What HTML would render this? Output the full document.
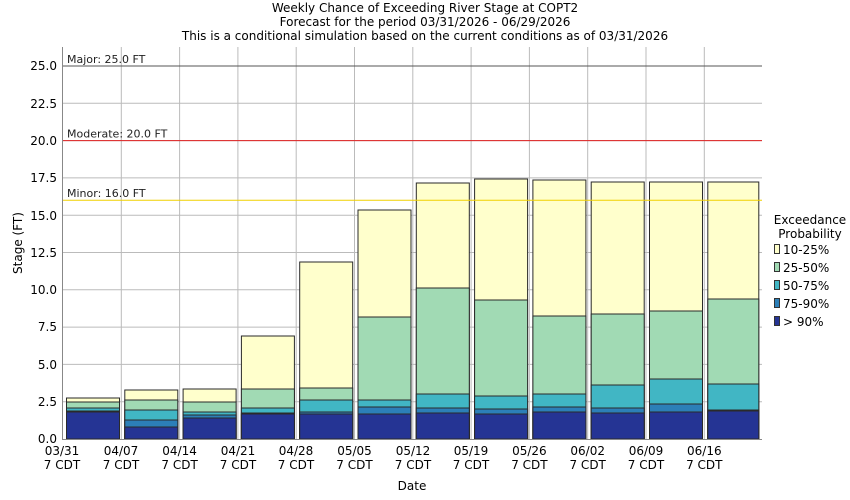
<!DOCTYPE html>
<html><head><style>body{margin:0;background:#fff}svg{display:block;font-family:"DejaVu Sans","Liberation Sans",sans-serif}</style></head><body>
<svg width="850" height="500" xmlns="http://www.w3.org/2000/svg">
<rect width="850" height="500" fill="#fff"/>
<g font-size="12" text-anchor="middle" fill="#000">
<text x="425" y="12">Weekly Chance of Exceeding River Stage at COPT2</text>
<text x="425" y="26">Forecast for the period 03/31/2026 - 06/29/2026</text>
<text x="425" y="40">This is a conditional simulation based on the current conditions as of 03/31/2026</text>
</g>
<g stroke="#bbb" stroke-width="1">
<line x1="63" y1="401.7" x2="762" y2="401.7"/><line x1="63" y1="364.4" x2="762" y2="364.4"/><line x1="63" y1="327.1" x2="762" y2="327.1"/><line x1="63" y1="289.8" x2="762" y2="289.8"/><line x1="63" y1="252.5" x2="762" y2="252.5"/><line x1="63" y1="215.2" x2="762" y2="215.2"/><line x1="63" y1="177.9" x2="762" y2="177.9"/><line x1="63" y1="140.6" x2="762" y2="140.6"/><line x1="63" y1="103.3" x2="762" y2="103.3"/><line x1="63" y1="66" x2="762" y2="66"/>
<line x1="121.3" y1="47" x2="121.3" y2="439"/><line x1="179.6" y1="47" x2="179.6" y2="439"/><line x1="237.9" y1="47" x2="237.9" y2="439"/><line x1="296.2" y1="47" x2="296.2" y2="439"/><line x1="354.5" y1="47" x2="354.5" y2="439"/><line x1="412.8" y1="47" x2="412.8" y2="439"/><line x1="471.1" y1="47" x2="471.1" y2="439"/><line x1="529.4" y1="47" x2="529.4" y2="439"/><line x1="587.7" y1="47" x2="587.7" y2="439"/><line x1="646" y1="47" x2="646" y2="439"/><line x1="704.3" y1="47" x2="704.3" y2="439"/>
</g>
<g stroke="#333" stroke-width="1">
<!-- bar: yellow, green, teal, blue, navy -->
<g id="b"></g>
</g>
<g stroke="#2a2a2a" stroke-width="1">
<rect x="66.5" y="398" width="53" height="41" fill="#ffffcc"/><rect x="66.5" y="402" width="53" height="37" fill="#a1dab4"/><rect x="66.5" y="408" width="53" height="31" fill="#41b6c4"/><rect x="66.5" y="411" width="53" height="28" fill="#2c7fb8"/><rect x="66.5" y="412" width="53" height="27" fill="#253494"/>
<rect x="124.8" y="390" width="53" height="49" fill="#ffffcc"/><rect x="124.8" y="400" width="53" height="39" fill="#a1dab4"/><rect x="124.8" y="410" width="53" height="29" fill="#41b6c4"/><rect x="124.8" y="420" width="53" height="19" fill="#2c7fb8"/><rect x="124.8" y="427" width="53" height="12" fill="#253494"/>
<rect x="183.1" y="389" width="53" height="50" fill="#ffffcc"/><rect x="183.1" y="402" width="53" height="37" fill="#a1dab4"/><rect x="183.1" y="412" width="53" height="27" fill="#41b6c4"/><rect x="183.1" y="415" width="53" height="24" fill="#2c7fb8"/><rect x="183.1" y="418" width="53" height="21" fill="#253494"/>
<rect x="241.4" y="336" width="53" height="103" fill="#ffffcc"/><rect x="241.4" y="389" width="53" height="50" fill="#a1dab4"/><rect x="241.4" y="408" width="53" height="31" fill="#41b6c4"/><rect x="241.4" y="413" width="53" height="26" fill="#2c7fb8"/><rect x="241.4" y="414" width="53" height="25" fill="#253494"/>
<rect x="299.7" y="262" width="53" height="177" fill="#ffffcc"/><rect x="299.7" y="388" width="53" height="51" fill="#a1dab4"/><rect x="299.7" y="400" width="53" height="39" fill="#41b6c4"/><rect x="299.7" y="412" width="53" height="27" fill="#2c7fb8"/><rect x="299.7" y="414" width="53" height="25" fill="#253494"/>
<rect x="358" y="210" width="53" height="229" fill="#ffffcc"/><rect x="358" y="317" width="53" height="122" fill="#a1dab4"/><rect x="358" y="400" width="53" height="39" fill="#41b6c4"/><rect x="358" y="407" width="53" height="32" fill="#2c7fb8"/><rect x="358" y="414" width="53" height="25" fill="#253494"/>
<rect x="416.3" y="183" width="53" height="256" fill="#ffffcc"/><rect x="416.3" y="288" width="53" height="151" fill="#a1dab4"/><rect x="416.3" y="394" width="53" height="45" fill="#41b6c4"/><rect x="416.3" y="408" width="53" height="31" fill="#2c7fb8"/><rect x="416.3" y="413" width="53" height="26" fill="#253494"/>
<rect x="474.6" y="179" width="53" height="260" fill="#ffffcc"/><rect x="474.6" y="300" width="53" height="139" fill="#a1dab4"/><rect x="474.6" y="396" width="53" height="43" fill="#41b6c4"/><rect x="474.6" y="409" width="53" height="30" fill="#2c7fb8"/><rect x="474.6" y="414" width="53" height="25" fill="#253494"/>
<rect x="532.9" y="180" width="53" height="259" fill="#ffffcc"/><rect x="532.9" y="316" width="53" height="123" fill="#a1dab4"/><rect x="532.9" y="394" width="53" height="45" fill="#41b6c4"/><rect x="532.9" y="407" width="53" height="32" fill="#2c7fb8"/><rect x="532.9" y="412" width="53" height="27" fill="#253494"/>
<rect x="591.2" y="182" width="53" height="257" fill="#ffffcc"/><rect x="591.2" y="314" width="53" height="125" fill="#a1dab4"/><rect x="591.2" y="385" width="53" height="54" fill="#41b6c4"/><rect x="591.2" y="408" width="53" height="31" fill="#2c7fb8"/><rect x="591.2" y="413" width="53" height="26" fill="#253494"/>
<rect x="649.5" y="182" width="53" height="257" fill="#ffffcc"/><rect x="649.5" y="311" width="53" height="128" fill="#a1dab4"/><rect x="649.5" y="379" width="53" height="60" fill="#41b6c4"/><rect x="649.5" y="404" width="53" height="35" fill="#2c7fb8"/><rect x="649.5" y="412" width="53" height="27" fill="#253494"/>
<rect x="707.8" y="182" width="51" height="257" fill="#ffffcc"/><rect x="707.8" y="299" width="51" height="140" fill="#a1dab4"/><rect x="707.8" y="384" width="51" height="55" fill="#41b6c4"/><rect x="707.8" y="410" width="51" height="29" fill="#2c7fb8"/><rect x="707.8" y="411" width="51" height="28" fill="#253494"/>
</g>
<line x1="63" y1="66" x2="762" y2="66" stroke="#555" stroke-width="1"/>
<line x1="63" y1="140.6" x2="762" y2="140.6" stroke="#e02020" stroke-width="1"/>
<line x1="63" y1="200.3" x2="762" y2="200.3" stroke="#f0d000" stroke-width="1"/>
<g font-size="11" fill="#222">
<text x="67" y="63">Major: 25.0 FT</text>
<text x="67" y="137.5">Moderate: 20.0 FT</text>
<text x="67" y="197">Minor: 16.0 FT</text>
</g>
<line x1="62.5" y1="47" x2="62.5" y2="439" stroke="#888"/>
<line x1="62" y1="439.5" x2="762" y2="439.5" stroke="#888"/>
<g font-size="12" text-anchor="end" fill="#000">
<text x="57" y="443">0.0</text><text x="57" y="406">2.5</text><text x="57" y="369">5.0</text><text x="57" y="331">7.5</text><text x="57" y="294">10.0</text><text x="57" y="257">12.5</text><text x="57" y="220">15.0</text><text x="57" y="182">17.5</text><text x="57" y="145">20.0</text><text x="57" y="108">22.5</text><text x="57" y="70">25.0</text>
</g>
<g font-size="12" text-anchor="middle" fill="#000">
<text x="62" y="455">03/31</text><text x="62" y="469">7 CDT</text>
<text x="121" y="455">04/07</text><text x="121" y="469">7 CDT</text>
<text x="179.6" y="455">04/14</text><text x="179.6" y="469">7 CDT</text>
<text x="238" y="455">04/21</text><text x="238" y="469">7 CDT</text>
<text x="296" y="455">04/28</text><text x="296" y="469">7 CDT</text>
<text x="354.5" y="455">05/05</text><text x="354.5" y="469">7 CDT</text>
<text x="413" y="455">05/12</text><text x="413" y="469">7 CDT</text>
<text x="471" y="455">05/19</text><text x="471" y="469">7 CDT</text>
<text x="529.4" y="455">05/26</text><text x="529.4" y="469">7 CDT</text>
<text x="587.7" y="455">06/02</text><text x="587.7" y="469">7 CDT</text>
<text x="646" y="455">06/09</text><text x="646" y="469">7 CDT</text>
<text x="704.3" y="455">06/16</text><text x="704.3" y="469">7 CDT</text>
<text x="412" y="490">Date</text>
<text transform="translate(22,243) rotate(-90)">Stage (FT)</text>
<text x="810" y="224">Exceedance</text>
<text x="810" y="238">Probability</text>
</g>
<g font-size="12" fill="#000" stroke="#333" stroke-width="1">
<rect x="774.5" y="244.5" width="5" height="9" fill="#ffffcc"/><rect x="774.5" y="262.5" width="5" height="9" fill="#a1dab4"/><rect x="774.5" y="280.5" width="5" height="9" fill="#41b6c4"/><rect x="774.5" y="298.5" width="5" height="9" fill="#2c7fb8"/><rect x="774.5" y="316.5" width="5" height="9" fill="#253494"/>
</g>
<g font-size="12" fill="#000">
<text x="783" y="254">10-25%</text><text x="783" y="272">25-50%</text><text x="783" y="290">50-75%</text><text x="783" y="308">75-90%</text><text x="783" y="326">&gt; 90%</text>
</g>
</svg>
</body></html>
